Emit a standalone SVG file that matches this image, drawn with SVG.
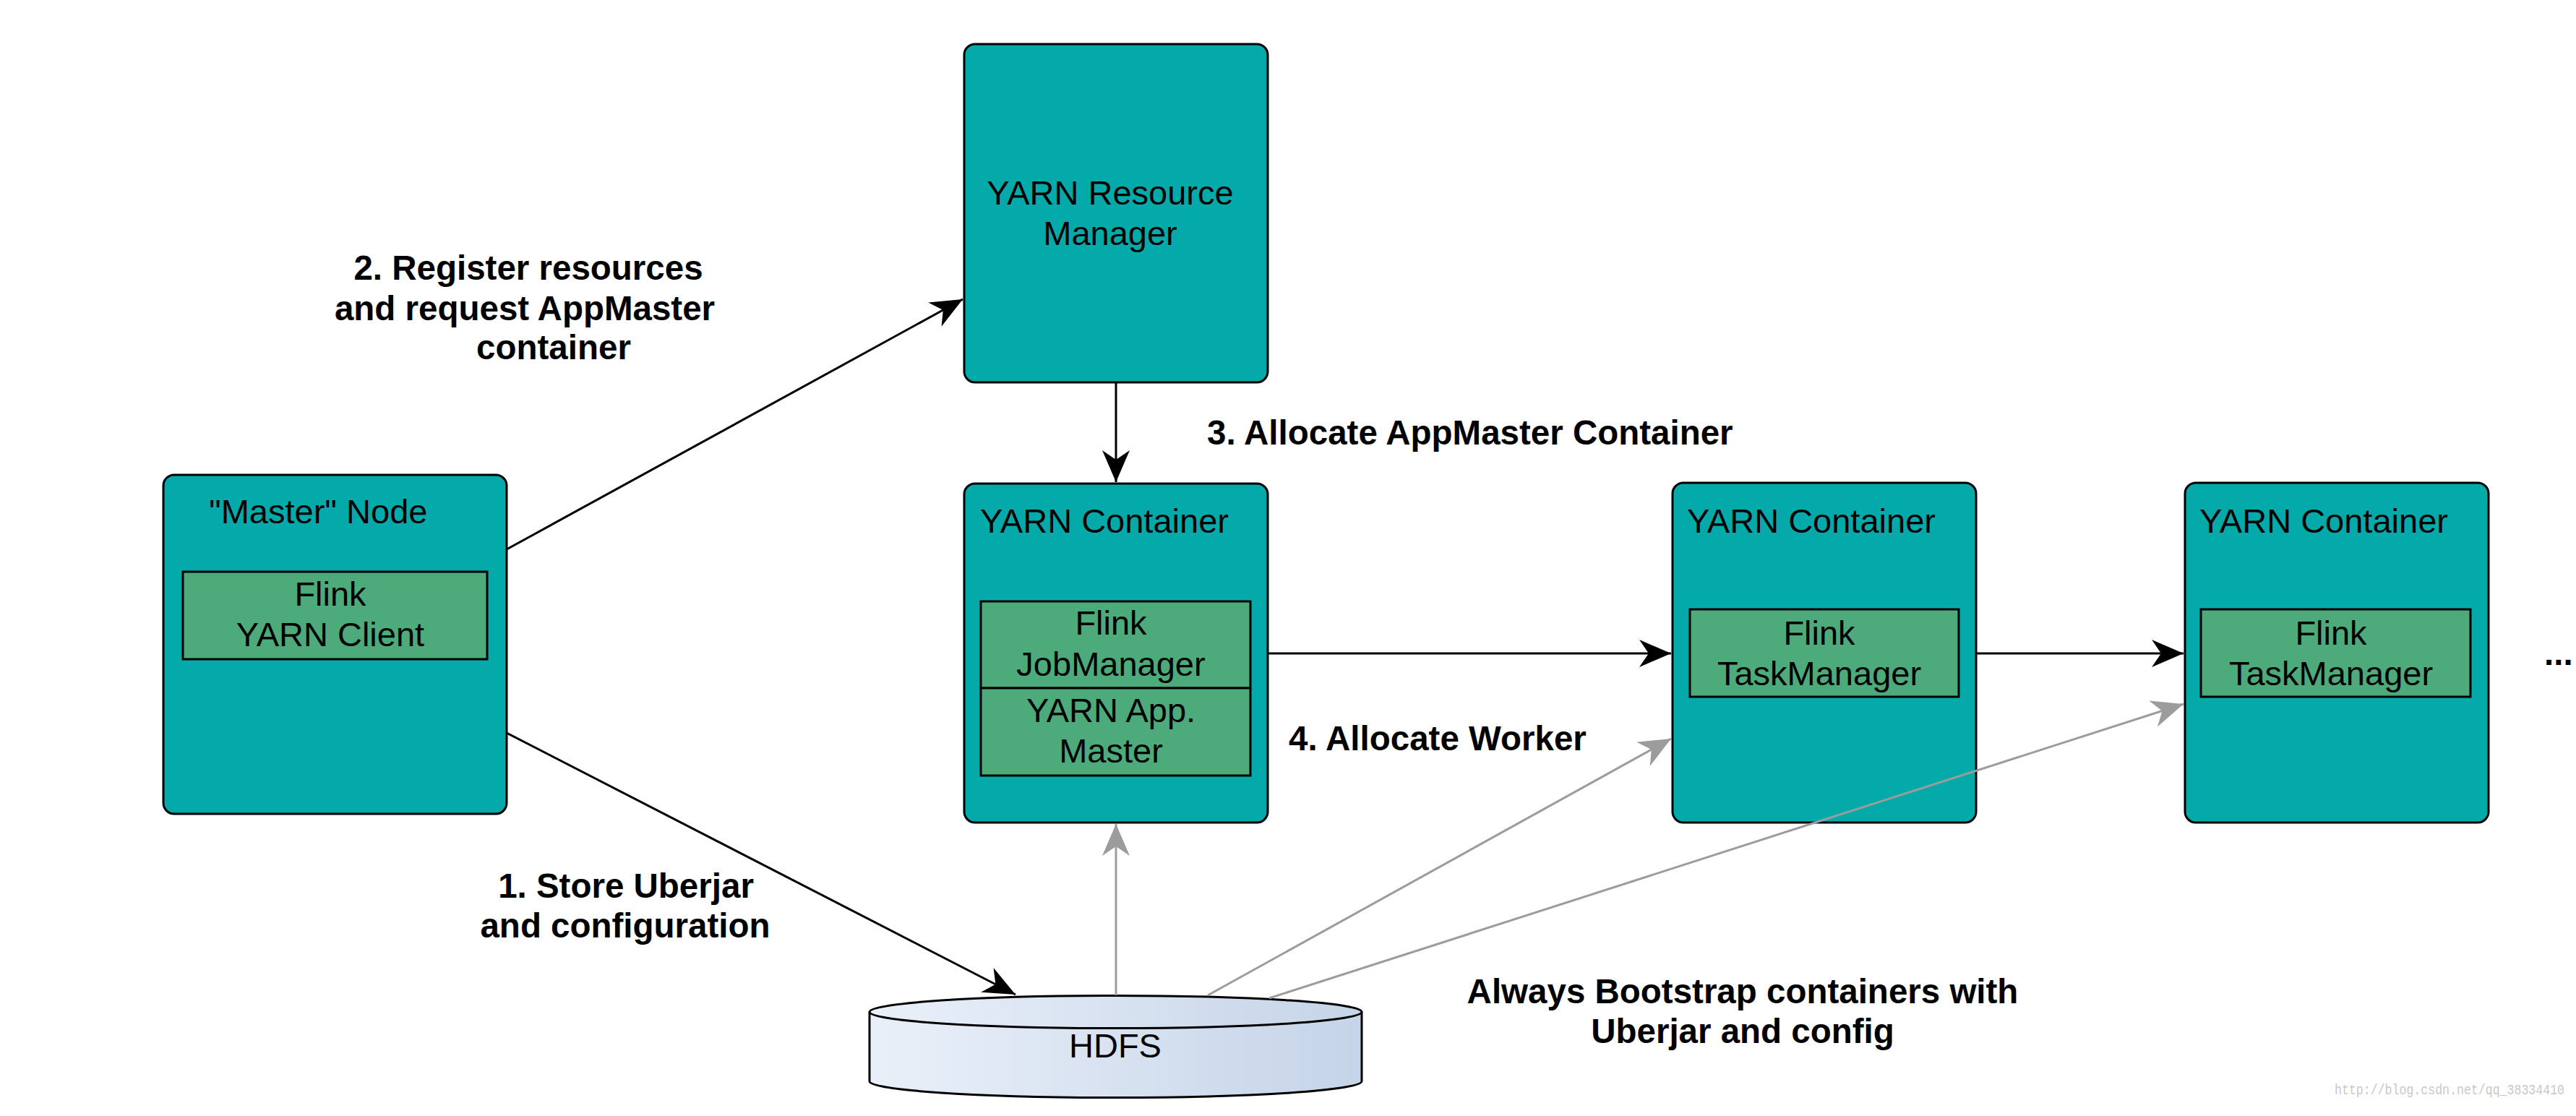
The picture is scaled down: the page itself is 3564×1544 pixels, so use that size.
<svg xmlns="http://www.w3.org/2000/svg" width="3564" height="1544" viewBox="0 0 3564 1544">
<style>
.box{fill:#04A9A9;stroke:#000;stroke-width:3}
.inner{fill:#4CAA7B;stroke:#000;stroke-width:3}
.t{font-family:"Liberation Sans",Arial,Helvetica,sans-serif;font-size:47px;fill:#000}
.c{text-anchor:middle}
.lb{font-family:"Liberation Sans",Arial,Helvetica,sans-serif;font-size:47.5px;font-weight:bold;fill:#000}
.blk{fill:none;stroke:#000;stroke-width:3}
.gry{fill:none;stroke:#9C9C9C;stroke-width:3}
</style>
<defs>
<marker id="ab" markerUnits="userSpaceOnUse" markerWidth="50" markerHeight="44" viewBox="-48 -22 50 44" refX="0" refY="0" orient="auto">
<path d="M0,0 L-44,-19 L-31,0 L-44,19 Z" fill="#000"/>
</marker>
<marker id="ag" markerUnits="userSpaceOnUse" markerWidth="50" markerHeight="44" viewBox="-48 -22 50 44" refX="0" refY="0" orient="auto">
<path d="M0,0 L-44,-19 L-31,0 L-44,19 Z" fill="#9C9C9C"/>
</marker>
<linearGradient id="cyl" x1="0" y1="0" x2="1" y2="0">
<stop offset="0" stop-color="#EAF0F9"/>
<stop offset="1" stop-color="#C5D4E8"/>
</linearGradient>
</defs>

<g id="resource-manager">
<rect class="box" x="1334" y="61" width="420" height="468" rx="15" ry="15"/>
<text class="t c" x="1536" y="283">YARN Resource</text>
<text class="t c" x="1536" y="339">Manager</text>
</g>

<g id="master-node">
<rect class="box" x="226" y="657" width="475" height="469" rx="15" ry="15"/>
<text class="t" x="289" y="724">"Master" Node</text>
<rect class="inner" x="253" y="791" width="421" height="121"/>
<text class="t c" x="457" y="838">Flink</text>
<text class="t c" x="457" y="894">YARN Client</text>
</g>

<g id="appmaster-container">
<rect class="box" x="1334" y="669" width="420" height="469" rx="15" ry="15"/>
<text class="t" x="1356" y="737">YARN Container</text>
<rect class="inner" x="1357" y="832" width="373" height="120"/>
<text class="t c" x="1537" y="878">Flink</text>
<text class="t c" x="1537" y="935">JobManager</text>
<rect class="inner" x="1357" y="952" width="373" height="121"/>
<text class="t c" x="1537" y="999">YARN App.</text>
<text class="t c" x="1537" y="1055">Master</text>
</g>

<g id="taskmanager-container-1">
<rect class="box" x="2314" y="668" width="420" height="470" rx="15" ry="15"/>
<text class="t" x="2334" y="737">YARN Container</text>
<rect class="inner" x="2338" y="843" width="372" height="121"/>
<text class="t c" x="2517" y="892">Flink</text>
<text class="t c" x="2517" y="948">TaskManager</text>
</g>

<g id="taskmanager-container-2">
<rect class="box" x="3023" y="668" width="420" height="470" rx="15" ry="15"/>
<text class="t" x="3043" y="737">YARN Container</text>
<rect class="inner" x="3045" y="843" width="373" height="121"/>
<text class="t c" x="3225" y="892">Flink</text>
<text class="t c" x="3225" y="948">TaskManager</text>
</g>

<g id="hdfs">
<path d="M1203,1400 A340.5,22.5 0 0,1 1884,1400 L1884,1496 A340.5,22.5 0 0,1 1203,1496 Z" fill="url(#cyl)" stroke="#000" stroke-width="3"/>
<path d="M1203,1400 A340.5,22.5 0 0,0 1884,1400" fill="none" stroke="#000" stroke-width="3"/>
<text class="t c" x="1543" y="1463">HDFS</text>
</g>

<g id="connectors">
<line class="blk" x1="701" y1="760" x2="1332" y2="414" marker-end="url(#ab)"/>
<line class="blk" x1="701" y1="1014" x2="1405" y2="1376" marker-end="url(#ab)"/>
<line class="blk" x1="1544" y1="529" x2="1544" y2="667" marker-end="url(#ab)"/>
<line class="blk" x1="1754" y1="904" x2="2312" y2="904" marker-end="url(#ab)"/>
<line class="blk" x1="2734" y1="904" x2="3021" y2="904" marker-end="url(#ab)"/>
<line class="gry" x1="1544" y1="1377" x2="1544" y2="1140" marker-end="url(#ag)"/>
<line class="gry" x1="1671" y1="1377" x2="2312" y2="1022" marker-end="url(#ag)"/>
<line class="gry" x1="1756" y1="1381" x2="3021" y2="974" marker-end="url(#ag)"/>
</g>

<g id="labels">
<text class="lb c" x="731" y="387">2. Register resources</text>
<text class="lb c" x="726" y="443">and request AppMaster</text>
<text class="lb c" x="766" y="497">container</text>
<text class="lb" x="1670" y="615">3. Allocate AppMaster Container</text>
<text class="lb" x="1783" y="1038">4. Allocate Worker</text>
<text class="lb c" x="866" y="1242">1. Store Uberjar</text>
<text class="lb c" x="865" y="1297">and configuration</text>
<text class="lb c" x="2411" y="1388">Always Bootstrap containers with</text>
<text class="lb c" x="2411" y="1443">Uberjar and config</text>
<text class="lb" x="3520" y="920">...</text>
</g>

<text x="3230" y="1514" font-family="'Liberation Mono','DejaVu Sans Mono',monospace" font-size="20" fill="#C8C8C8" textLength="318" lengthAdjust="spacingAndGlyphs">http://blog.csdn.net/qq_38334410</text>
</svg>
